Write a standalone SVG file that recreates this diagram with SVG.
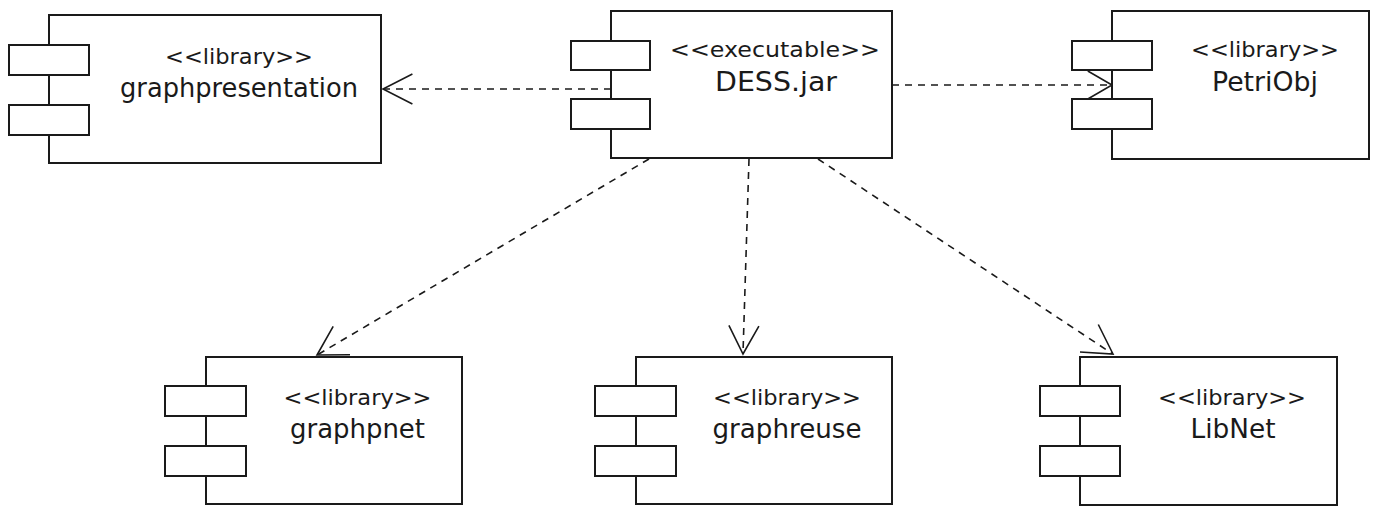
<svg xmlns="http://www.w3.org/2000/svg" width="1378" height="507" viewBox="0 0 1378 507">
  <style>
    .body { fill: #ffffff; stroke: #1a1a1a; stroke-width: 2; }
    .port { fill: #ffffff; stroke: #1a1a1a; stroke-width: 2; }
    .stereo { font-family: "DejaVu Sans", Verdana, sans-serif; font-size: 22px; fill: #1a1a1a; text-anchor: middle; }
    .name { font-family: "DejaVu Sans", Verdana, sans-serif; font-size: 26px; fill: #1a1a1a; text-anchor: middle; }
    .dep { fill: none; stroke: #1a1a1a; stroke-width: 1.6; stroke-dasharray: 7 6; }
    .head { fill: none; stroke: #1a1a1a; stroke-width: 1.6; stroke-linejoin: miter; }
  </style>
  <rect width="1378" height="507" fill="#ffffff"/>

  <!-- dependency connectors (dashed, open arrowheads) -->
  <g id="connectors">
    <line class="dep" x1="611" y1="89" x2="384" y2="89"/>
    <polyline class="head" points="412.4,74 383,89 412.4,104"/>

    <line class="dep" x1="892" y1="85" x2="1111" y2="85"/>
    <polyline class="head" points="1087.8,71 1112,85 1087.8,99"/>

    <line class="dep" x1="649" y1="159" x2="318" y2="354.5"/>
    <polyline class="head" points="350,354.7 317,355 333.2,326.3"/>

    <line class="dep" x1="749" y1="159" x2="743" y2="353"/>
    <polyline class="head" points="758.9,326.2 743,354 728.9,325.3"/>

    <line class="dep" x1="818" y1="159" x2="1112" y2="353.5"/>
    <polyline class="head" points="1098.3,324.5 1113,354 1080,352"/>
  </g>

  <!-- component: graphpresentation -->
  <g id="node-graphpresentation">
    <rect class="body" x="49" y="15" width="332" height="148"/>
    <rect class="port" x="9" y="45" width="80" height="30"/>
    <rect class="port" x="9" y="105" width="80" height="30"/>
    <text class="stereo" x="239" y="64" textLength="148" lengthAdjust="spacingAndGlyphs">&lt;&lt;library&gt;&gt;</text>
    <text class="name" x="239" y="97" textLength="238" lengthAdjust="spacingAndGlyphs">graphpresentation</text>
  </g>

  <!-- component: DESS.jar -->
  <g id="node-dess">
    <rect class="body" x="611" y="11" width="281" height="147"/>
    <rect class="port" x="571" y="41" width="79" height="29"/>
    <rect class="port" x="571" y="99" width="79" height="30"/>
    <text class="stereo" x="775" y="57" textLength="210" lengthAdjust="spacingAndGlyphs">&lt;&lt;executable&gt;&gt;</text>
    <text class="name" x="776" y="91" textLength="122" lengthAdjust="spacingAndGlyphs">DESS.jar</text>
  </g>

  <!-- component: PetriObj -->
  <g id="node-petriobj">
    <rect class="body" x="1112" y="11" width="257" height="148"/>
    <rect class="port" x="1072" y="41" width="80" height="29"/>
    <rect class="port" x="1072" y="99" width="80" height="30"/>
    <text class="stereo" x="1265" y="57" textLength="148" lengthAdjust="spacingAndGlyphs">&lt;&lt;library&gt;&gt;</text>
    <text class="name" x="1265" y="91" textLength="106" lengthAdjust="spacingAndGlyphs">PetriObj</text>
  </g>

  <!-- component: graphpnet -->
  <g id="node-graphpnet">
    <rect class="body" x="206" y="357" width="256" height="147"/>
    <rect class="port" x="165" y="386" width="81" height="30"/>
    <rect class="port" x="165" y="446" width="81" height="30"/>
    <text class="stereo" x="357.5" y="405" textLength="148" lengthAdjust="spacingAndGlyphs">&lt;&lt;library&gt;&gt;</text>
    <text class="name" x="357.5" y="438" textLength="135" lengthAdjust="spacingAndGlyphs">graphpnet</text>
  </g>

  <!-- component: graphreuse -->
  <g id="node-graphreuse">
    <rect class="body" x="636" y="357" width="256" height="147"/>
    <rect class="port" x="595" y="386" width="81" height="30"/>
    <rect class="port" x="595" y="446" width="81" height="30"/>
    <text class="stereo" x="787" y="405" textLength="148" lengthAdjust="spacingAndGlyphs">&lt;&lt;library&gt;&gt;</text>
    <text class="name" x="787" y="438" textLength="149" lengthAdjust="spacingAndGlyphs">graphreuse</text>
  </g>

  <!-- component: LibNet -->
  <g id="node-libnet">
    <rect class="body" x="1080" y="357" width="257" height="148"/>
    <rect class="port" x="1040" y="386" width="80" height="30"/>
    <rect class="port" x="1040" y="446" width="80" height="30"/>
    <text class="stereo" x="1232" y="405" textLength="148" lengthAdjust="spacingAndGlyphs">&lt;&lt;library&gt;&gt;</text>
    <text class="name" x="1233" y="438" textLength="85" lengthAdjust="spacingAndGlyphs">LibNet</text>
  </g>
</svg>
